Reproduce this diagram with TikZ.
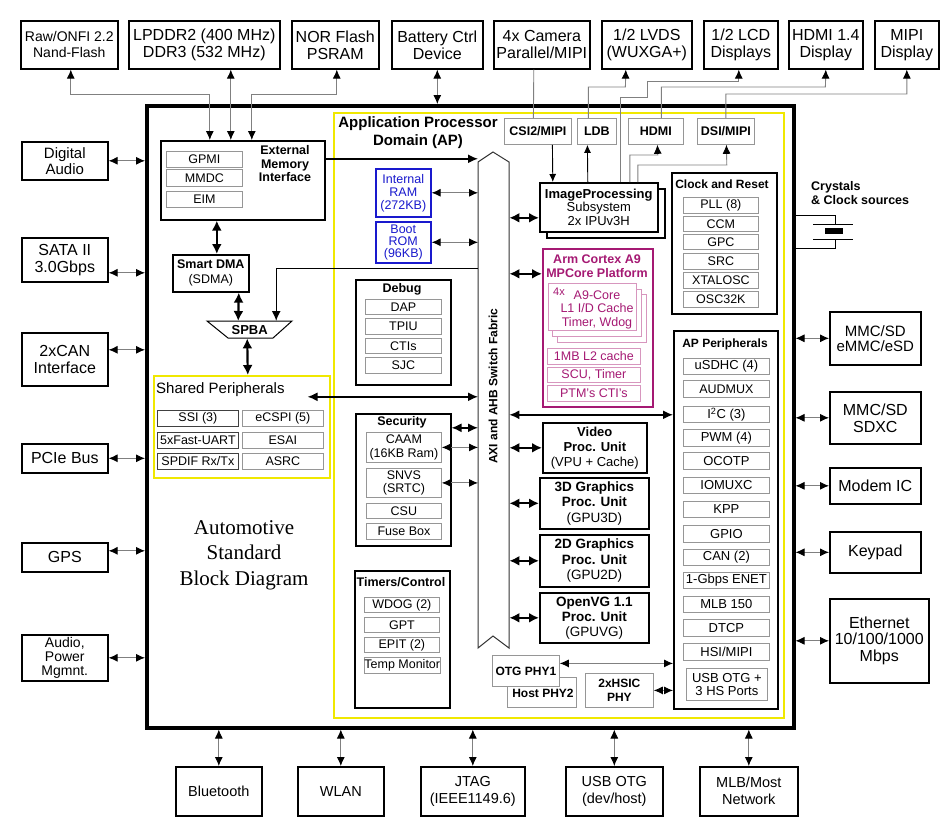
\documentclass[tikz,border=0pt]{standalone}
\usepackage{fontspec}
\setmainfont{Liberation Sans}
\newfontfamily\tmsfont{Liberation Serif}
\usetikzlibrary{arrows.meta}
\newcommand{\setfs}[2]{\fontsize{#1}{#2}\selectfont}
\newcommand{\mkbox}[7]{%
 \pgfmathsetmacro{\mkbw}{#5-#3}%
 \pgfmathsetmacro{\mkbh}{#6-#4}%
 \node[#1,anchor=north west,minimum width=\mkbw pt,minimum height=\mkbh pt] (#2) at (#3,#4) {#7};}
\definecolor{ylw}{RGB}{240,232,0}
\definecolor{mag}{RGB}{165,25,115}
\definecolor{pnk}{RGB}{215,150,190}
\definecolor{blu}{RGB}{25,25,205}
\definecolor{sgr}{RGB}{150,150,150}
\tikzset{
 box/.style={draw, line width=1.6pt, inner sep=0pt, fill=white, align=center},
 ebox/.style={box, font=\setfs{16}{17}},
 blk/.style={box, font=\setfs{13}{15}},
 sub/.style={draw=sgr, line width=0.8pt, inner sep=0pt, fill=white, align=center, font=\setfs{12.5}{13.5}},
 subd/.style={sub, draw=black!75},
 subp/.style={sub, font=\setfs{13}{13.5}},
 gbox/.style={sub, font=\bfseries\setfs{12}{14}},
 bluebox/.style={draw=blu, line width=1.6pt, inner sep=0pt, fill=white, align=center, text=blu, font=\setfs{12.5}{13}},
 magbox/.style={draw=mag, line width=1.6pt, inner sep=0pt, fill=white},
 pnkbox/.style={draw=pnk, line width=0.8pt, inner sep=0pt, fill=white, align=center, text=mag, font=\setfs{12.5}{13.5}},
 ttl/.style={inner sep=0pt, align=center, font=\bfseries\setfs{12.5}{13.5}},
 lbl/.style={inner sep=0pt, align=center},
 inv/.style={draw=none, inner sep=0pt},
 gar/.style={draw=black!50, line width=0.9pt, >={Latex[length=9pt,width=8pt,color=black]}},
 tin/.style={draw=black, line width=0.9pt, >={Latex[length=8pt,width=7pt]}},
 bar/.style={draw=black, line width=1.4pt, >={Latex[length=10pt,width=9pt]}},
 tar/.style={draw=black, line width=2.2pt, >={Latex[length=10pt,width=10pt]}},
}
\begin{document}
\begin{tikzpicture}[x=1pt,y=-1pt,line join=miter]
\useasboundingbox (0,0) rectangle (951,825);
\fill[white] (0,0) rectangle (951,825);

% ---------- external devices: top ----------
\mkbox{ebox,font=\setfs{14}{16}}{nand}{20}{20}{117}{68}{Raw/ONFI 2.2\\Nand-Flash}
\mkbox{ebox}{ddr}{128}{20}{279}{68}{LPDDR2 (400 MHz)\\DDR3 (532 MHz)}
\mkbox{ebox}{nor}{291}{20}{378}{68}{NOR Flash\\PSRAM}
\mkbox{ebox}{bat}{391}{20}{482}{68}{Battery Ctrl\\Device}
\mkbox{ebox}{cam}{493}{20}{589}{68}{4x Camera\\Parallel/MIPI}
\mkbox{ebox}{lvds}{601}{20}{691}{68}{1/2 LVDS\\(WUXGA+)}
\mkbox{ebox}{lcd}{703}{20}{777}{68}{1/2 LCD\\Displays}
\mkbox{ebox}{hdmid}{788}{20}{862}{68}{HDMI 1.4\\Display}
\mkbox{ebox}{mipid}{874}{20}{938}{68}{MIPI\\Display}
% ---------- left ----------
\mkbox{ebox,font=\setfs{15}{16}}{daud}{21}{141}{107}{179}{Digital\\Audio}
\mkbox{ebox}{sata}{21}{237}{107}{281}{SATA II\\3.0Gbps}
\mkbox{ebox}{can}{21}{332}{107}{385}{2xCAN\\Interface}
\mkbox{ebox}{pcie}{21}{443}{107}{472}{PCIe Bus}
\mkbox{ebox}{gps}{21}{542}{107}{571}{GPS}
\mkbox{ebox,font=\setfs{14}{14}}{apm}{21}{634}{107}{680}{Audio,\\Power\\Mgmnt.}
% ---------- right ----------
\mkbox{ebox,font=\setfs{15}{15}}{mmc1}{829}{311}{920}{364}{MMC/SD\\eMMC/eSD}
\mkbox{ebox}{mmc2}{829}{391}{920}{443}{MMC/SD\\SDXC}
\mkbox{ebox}{modem}{829}{467}{920}{503}{Modem IC}
\mkbox{ebox}{keyp}{829}{531}{920}{572}{Keypad}
\mkbox{ebox,font=\setfs{16}{16.5}}{eth}{829}{598}{928}{682}{Ethernet\\10/100/1000\\Mbps}
% ---------- bottom ----------
\mkbox{ebox,font=\setfs{14.5}{17}}{bt}{175}{766}{261}{815}{Bluetooth}
\mkbox{ebox,font=\setfs{14.5}{17}}{wlan}{297}{766}{383}{815}{WLAN}
\mkbox{ebox,font=\setfs{14.5}{17}}{jtag}{420}{766}{524}{815}{JTAG\\(IEEE1149.6)}
\mkbox{ebox,font=\setfs{14.5}{17}}{usbo}{565}{766}{662}{815}{USB OTG\\(dev/host)}
\mkbox{ebox,font=\setfs{14.5}{17}}{mlb}{699}{766}{797}{815}{MLB/Most\\Network}

% ---------- chip ----------
\mkbox{draw,line width=3.5pt,inner sep=0pt}{chip}{145}{104}{792}{726}{}
\mkbox{draw=ylw,line width=1.6pt,inner sep=0pt}{apd}{333}{112}{783}{717}{}

% External memory interface
\mkbox{blk}{emi}{160}{140}{324}{219}{}
\mkbox{sub}{gpmi}{166}{151}{242}{167}{GPMI}
\mkbox{sub}{mmdc}{166}{169}{242}{186}{MMDC}
\mkbox{sub}{eim}{166}{191}{242}{207}{EIM}
\node[ttl] (emit) at (285,164) {External\\Memory\\Interface};
\mkbox{blk,font=\setfs{12.5}{15}}{sdma}{172}{254}{248}{291}{\textbf{Smart DMA}\\(SDMA)}
\draw[line width=1pt,fill=white] (207,321) -- (292,321) -- (273,338) -- (228,338) -- cycle;
\mkbox{inv,font=\bfseries\setfs{13}{14}}{spba}{207}{321}{292}{338}{SPBA}

% Shared peripherals
\mkbox{draw=ylw,line width=1.6pt,inner sep=0pt}{shp}{153}{375}{329}{477}{}
\node[lbl,anchor=west,font=\setfs{15}{16}] (shpt) at (156,390) {Shared Peripherals};
\mkbox{subd}{ssi}{157}{410}{238}{426}{SSI (3)}
\mkbox{sub}{ecspi}{242}{410}{323}{426}{eCSPI (5)}
\mkbox{subd}{uart}{157}{432}{238}{448}{5xFast-UART}
\mkbox{sub}{esai}{242}{432}{323}{448}{ESAI}
\mkbox{subd}{spdif}{157}{453}{238}{469}{SPDIF Rx/Tx}
\mkbox{sub}{asrc}{242}{453}{323}{469}{ASRC}

\node[lbl,font=\tmsfont\setfs{21}{25.5}] (title) at (244,555) {Automotive\\Standard\\Block Diagram};

% AP domain
\node[lbl,font=\bfseries\setfs{15}{18}] (apt) at (418,133) {Application Processor\\Domain (AP)};
\mkbox{bluebox}{ram}{375}{168}{430}{216}{Internal\\RAM\\(272KB)}
\mkbox{bluebox,font=\setfs{12.5}{12}}{rom}{375}{221}{430}{262}{Boot\\ROM\\(96KB)}

\mkbox{blk}{dbg}{355}{279}{450}{384}{}
\node[ttl] (dbgt) at (402,289) {Debug};
\mkbox{sub}{dap}{365}{299}{441}{314}{DAP}
\mkbox{sub}{tpiu}{365}{318}{441}{334}{TPIU}
\mkbox{sub}{ctis}{365}{338}{441}{353}{CTIs}
\mkbox{sub}{sjc}{365}{357}{441}{373}{SJC}

\mkbox{blk}{sec}{355}{413}{450}{545}{}
\node[ttl] (sect) at (402,422) {Security};
\mkbox{sub}{caam}{366}{432}{441}{462}{CAAM\\(16KB Ram)}
\mkbox{sub}{snvs}{366}{468}{441}{497}{SNVS\\(SRTC)}
\mkbox{sub}{csu}{366}{503}{441}{518}{CSU}
\mkbox{sub}{fuse}{366}{523}{441}{539}{Fuse Box}

\mkbox{blk}{tmr}{354}{570}{449}{707}{}
\node[ttl] (tmrt) at (401,582) {Timers/Control};
\mkbox{sub}{wdog}{364}{597}{439}{612}{WDOG (2)}
\mkbox{sub}{gpt}{364}{617}{439}{632}{GPT}
\mkbox{sub}{epit}{364}{637}{439}{652}{EPIT (2)}
\mkbox{sub}{temp}{364}{657}{439}{673}{Temp Monitor}

% display / camera interfaces
\mkbox{gbox,font=\bfseries\setfs{12.5}{14}}{csi}{504}{118}{571}{144}{CSI2/MIPI}
\mkbox{gbox,font=\bfseries\setfs{12.5}{14}}{ldb}{577}{118}{616}{144}{LDB}
\mkbox{gbox,font=\bfseries\setfs{12.5}{14}}{hdmi}{628}{118}{683}{144}{HDMI}
\mkbox{gbox,font=\bfseries\setfs{12.5}{14}}{dsi}{697}{118}{754}{144}{DSI/MIPI}

\mkbox{blk}{ipus}{546}{188}{664}{237}{}
\mkbox{blk,font=\setfs{13}{13.5}}{ipu}{539}{182}{657}{231}{\textbf{ImageProcessing}\\Subsystem\\2x IPUv3H}

% ARM platform
\mkbox{magbox}{arm}{542}{248}{652}{406}{}
\node[ttl,text=mag,font=\bfseries\setfs{12.5}{14}] (armt) at (597,266) {Arm Cortex A9\\MPCore Platform};
\mkbox{pnkbox}{core3}{557}{294}{646}{342}{}
\mkbox{pnkbox}{core2}{552}{289}{641}{336}{}
\mkbox{pnkbox}{core1}{548}{283}{636}{330}{}
\node[lbl,text=mag,font=\setfs{11}{12}] (c4x) at (559,292) {4x};
\node[lbl,text=mag,font=\setfs{12.5}{13.5}] (coret) at (597,309.5) {A9-Core\\L1 I/D Cache\\Timer, Wdog};
\mkbox{pnkbox}{l2}{547}{348}{640}{364}{1MB L2 cache}
\mkbox{pnkbox}{scu}{547}{367}{640}{382}{SCU, Timer}
\mkbox{pnkbox}{ptm}{547}{385}{640}{401}{PTM's CTI's}

% Clock and reset
\mkbox{blk}{clk}{671}{172}{776}{313}{}
\node[ttl,font=\bfseries\setfs{12}{13}] (clkt) at (722,184) {Clock and Reset};
\mkbox{sub}{pll}{683}{197}{758}{213}{PLL (8)}
\mkbox{sub}{ccm}{683}{216}{758}{231}{CCM}
\mkbox{sub}{gpc}{683}{234}{758}{249}{GPC}
\mkbox{sub}{src}{683}{253}{758}{269}{SRC}
\mkbox{sub}{xtal}{683}{272}{758}{288}{XTALOSC}
\mkbox{sub}{osc}{683}{291}{758}{307}{OSC32K}

% AP peripherals
\mkbox{blk}{app}{673}{330}{777}{708}{}
\node[ttl,font=\bfseries\setfs{12}{13}] (appt) at (725,344) {AP Peripherals};
\mkbox{subp}{usdhc}{683}{358}{769}{374}{uSDHC (4)}
\mkbox{subp,font=\setfs{12.5}{13}}{audmux}{683}{380}{769}{397}{AUDMUX}
\mkbox{subp}{i2c}{683}{406}{769}{422}{I\textsuperscript{2}C (3)}
\mkbox{subp}{pwm}{683}{429}{769}{446}{PWM (4)}
\mkbox{subp}{ocotp}{683}{452}{769}{469}{OCOTP}
\mkbox{subp}{iomuxc}{683}{477}{769}{493}{IOMUXC}
\mkbox{subp}{kpp}{683}{501}{769}{517}{KPP}
\mkbox{subp}{gpio}{683}{525}{769}{542}{GPIO}
\mkbox{subp}{can2}{683}{549}{769}{565}{CAN (2)}
\mkbox{subp}{enet}{683}{572}{769}{588}{1-Gbps ENET}
\mkbox{subp}{mlbp}{683}{596}{769}{612}{MLB 150}
\mkbox{subp}{dtcp}{683}{619}{769}{636}{DTCP}
\mkbox{subp}{hsi}{683}{643}{769}{660}{HSI/MIPI}
\mkbox{subp}{usbp}{686}{668}{767}{700}{USB OTG +\\3 HS Ports}

% multimedia units
\mkbox{blk}{vpu}{542}{422}{646}{472}{\textbf{Video}\\\textbf{Proc. Unit}\\(VPU + Cache)}
\mkbox{blk,font=\setfs{13.5}{15.5}}{gpu3}{539}{477}{648}{528}{\textbf{3D Graphics}\\\textbf{Proc. Unit}\\(GPU3D)}
\mkbox{blk,font=\setfs{13.5}{15.5}}{gpu2}{539}{534}{648}{586}{\textbf{2D Graphics}\\\textbf{Proc. Unit}\\(GPU2D)}
\mkbox{blk,font=\setfs{13.5}{15}}{gpuvg}{539}{592}{648}{642}{\textbf{OpenVG 1.1}\\\textbf{Proc. Unit}\\(GPUVG)}

% USB PHYs
\mkbox{gbox}{host}{507}{677}{576}{707}{}
\mkbox{gbox}{otg}{492}{655}{559}{686}{OTG PHY1}
\node[lbl,font=\bfseries\setfs{12}{14}] (hostt) at (543,693) {Host PHY2};
\mkbox{gbox}{hsic}{585}{673}{653}{707}{2xHSIC\\PHY}

% switch fabric
\draw[line width=1pt,draw=black!80,fill=white] (478,648) -- (478,162) -- (493,152) -- (509,162) -- (509,648) -- (493,636) -- cycle;
\mkbox{inv}{fabric}{478}{162}{509}{648}{}
\node[ttl,rotate=90,font=\bfseries\setfs{12}{13}] (fablbl) at (493,386) {AXI and AHB Switch Fabric};

% crystal
\draw[line width=1pt] (792,215) -| (835,224);
\draw[line width=1pt] (792,248) -| (835,239);
\draw[line width=1pt] (813,224) -- (853,224);
\draw[line width=1pt] (813,239) -- (853,239);
\fill (825,228) rectangle (843,234);
\node[lbl,anchor=west,align=left,font=\bfseries\setfs{12.5}{13.5}] (xtl) at (811,193) {Crystals\\\& Clock sources};

% ---------- connectors: external ----------
\coordinate (sataP) at ([yshift=-13pt]sata.east);
\coordinate (canP) at ([yshift=9.5pt]can.east);
\coordinate (gpsP) at ([yshift=6.5pt]gps.east);
\draw[gar,<->] (daud.east) -- (daud.east -| chip.west);
\draw[gar,<->] (sataP) -- (sataP -| chip.west);
\draw[gar,<->] (canP) -- (canP -| chip.west);
\draw[gar,<->] (pcie.east) -- (pcie.east -| chip.west);
\draw[gar,<->] (gpsP) -- (gpsP -| chip.west);
\draw[gar,<->] (apm.east) -- (apm.east -| chip.west);

\draw[gar,<->] (mmc1.west -| chip.east) -- (mmc1.west);
\draw[gar,<->] (mmc2.west -| chip.east) -- (mmc2.west);
\draw[gar,<->] (modem.west -| chip.east) -- (modem.west);
\draw[gar,<->] (keyp.west -| chip.east) -- (keyp.west);
\draw[gar,<->] (eth.west -| chip.east) -- (eth.west);

\draw[gar,<->] (bt.north |- chip.south) -- (bt.north);
\draw[gar,<->] (wlan.north |- chip.south) -- (wlan.north);
\draw[gar,<->] (jtag.north |- chip.south) -- (jtag.north);
\draw[gar,<->] (usbo.north |- chip.south) -- (usbo.north);
\draw[gar,<->] (mlb.north |- chip.south) -- (mlb.north);

\draw[gar,<->] (bat.south) -- (bat.south |- chip.north);

\coordinate (e1) at ([xshift=-33pt]emi.north);
\coordinate (e2) at ([xshift=-12pt]emi.north);
\coordinate (e3) at ([xshift=9pt]emi.north);
\draw[gar,<->] ([xshift=1.5pt]nand.south) |- ++(139,25) -- (e1);
\draw[gar,<->] ([xshift=26.5pt]ddr.south) -- (e2);
\draw[gar,<->] ([xshift=1.5pt]nor.south) |- ++(-85,25) -- (e3);

% camera / display
\draw[gar] ([xshift=-8pt]cam.south) -- ([xshift=-4.5pt]csi.north);
\draw[tin,->] ([xshift=14.5pt]csi.south) -- ([xshift=-46pt]ipu.north);
\draw[tin,->] ([xshift=-11pt]ipu.north) -- ([xshift=-9.5pt]ldb.south);
\draw[gar,->] ([xshift=-8.5pt]ldb.north) |- ++(37,-31) -- ([xshift=-21pt]lvds.south);
\draw[gar,->] ([xshift=22pt]ipu.north) -- ++(0,-85) -- ++(27,0) -- ++(0,-16) -| ([xshift=-2pt]lcd.south);
\draw[gar,->] ([xshift=5.5pt]hdmi.north) |- ++(164,-31) -- (hdmid.south);
\draw[gar,->] (dsi.north) |- ++(181,-24) -- (mipid.south);
\draw[gar,->] ([xshift=31pt]ipu.north) |- ++(28,-27) -- ([xshift=1.5pt]hdmi.south);
\draw[gar,->] ([xshift=39pt]ipu.north) |- ++(89,-17) -- ([xshift=0.5pt]dsi.south);

% ---------- connectors: internal ----------
\draw[tar,<->] ([xshift=-26pt]emi.south) -- ([xshift=6pt]sdma.north);
\draw[tar,<->] ([xshift=28pt]sdma.south) -- ([xshift=-11.5pt]spba.north);
\draw[tar,<->] ([xshift=-2.5pt]spba.south) -- ([xshift=6pt]shp.north);

\coordinate (emiR) at ([yshift=21.5pt]emi.east);
\draw[bar,->] (emiR) -- (emiR -| fabric.west);
\coordinate (spbaL) at ([yshift=137pt]fabric.west);
\draw[bar,->] (spbaL) -| ([xshift=26.5pt]spba.north);
\coordinate (shpA) at ([xshift=-23pt,yshift=30pt]shp.east);
\draw[bar,<->] (shpA) -- (shpA -| fabric.west);

\draw[gar,<->] (ram.east) -- (ram.east -| fabric.west);
\draw[gar,<->] (rom.east) -- (rom.east -| fabric.west);
\coordinate (secA) at ([yshift=52pt]sec.east);
\draw[bar,<->] (secA) -- (secA -| fabric.west);
\draw[gar,<->] (caam.east) -- (caam.east -| fabric.west);
\draw[gar,<->] (snvs.east) -- (snvs.east -| fabric.west);

\coordinate (ipuA) at ([yshift=-10.5pt]ipu.west);
\draw[tar,<->] (ipuA -| fabric.east) -- (ipuA);
\coordinate (armA) at ([yshift=54pt]arm.west);
\draw[tar,<->] (armA -| fabric.east) -- (armA);
\coordinate (appA) at ([yshift=105pt]app.west);
\draw[bar,<->] (appA -| fabric.east) -- (appA);
\draw[tar,<->] (vpu.west -| fabric.east) -- (vpu.west);
\draw[tar,<->] (gpu3.west -| fabric.east) -- (gpu3.west);
\draw[tar,<->] (gpu2.west -| fabric.east) -- (gpu2.west);
\draw[tar,<->] (gpuvg.west -| fabric.east) -- (gpuvg.west);

\coordinate (otgA) at ([yshift=7.5pt]otg.east);
\draw[gar,<->] (otgA) -- (otgA -| app.west);
\draw[gar,<->] (hsic.east) -- (hsic.east -| app.west);
\end{tikzpicture}
\end{document}
